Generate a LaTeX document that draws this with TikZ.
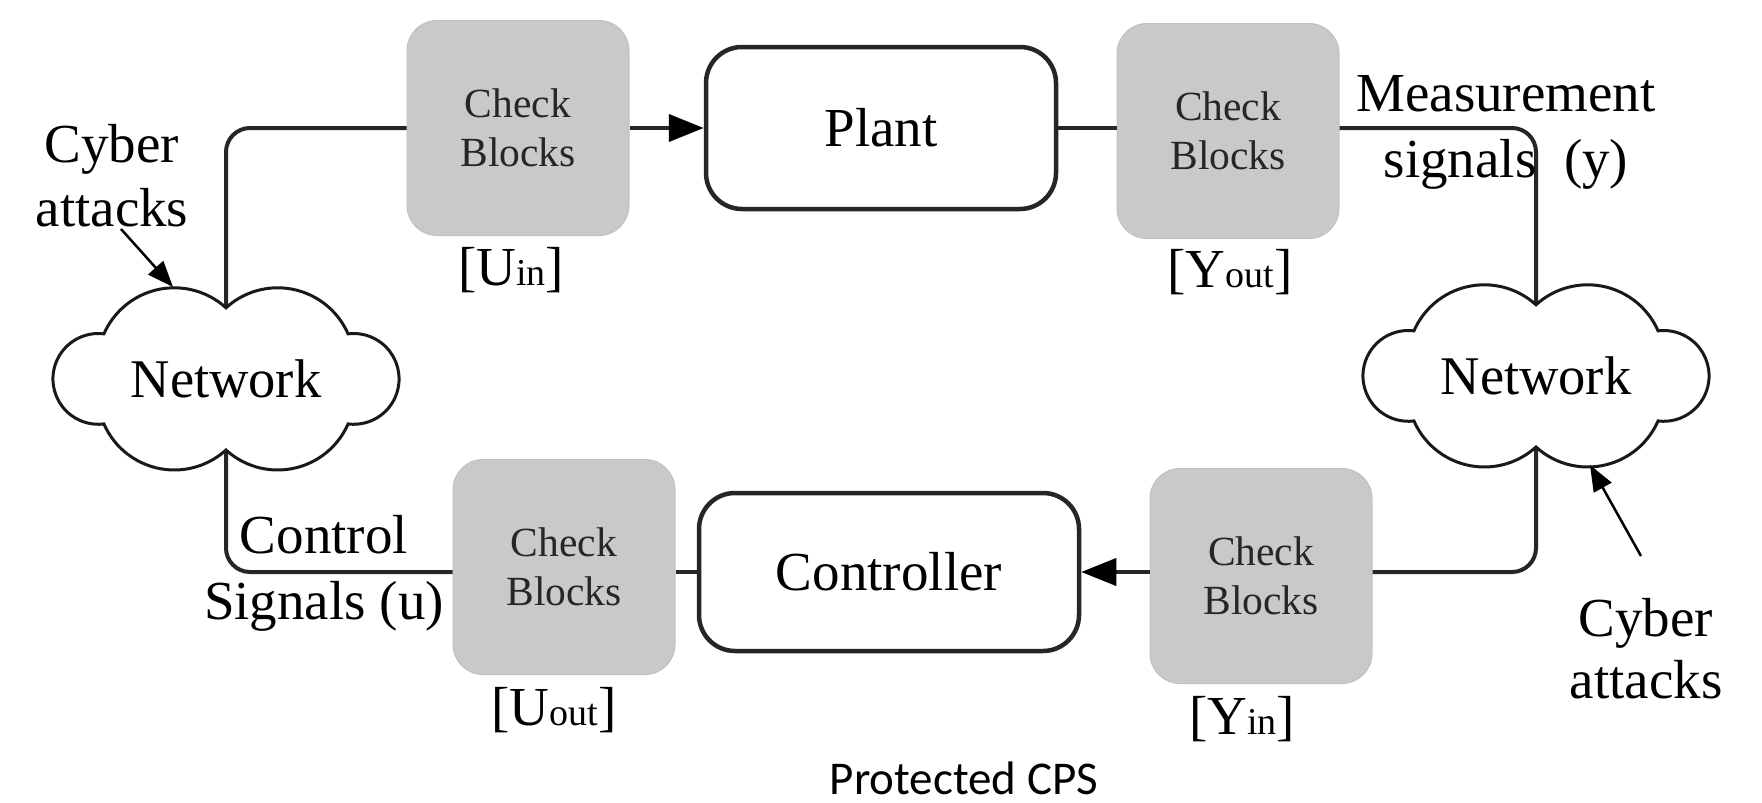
\documentclass[tikz,border=0pt]{standalone}
\usepackage{fontspec}
\setmainfont{Liberation Serif}
\newfontfamily\capfont{Carlito}
\usetikzlibrary{arrows.meta,calc}
\newcommand\mycloud[1]{%
  \draw[cloudline] ($(#1)+(0,71)$)
    arc[start angle=132.3, end angle=23.6, radius=76.8]
    arc[start angle=97.1, end angle=-97.1, radius=45.4]
    arc[start angle=-23.6, end angle=-132.3, radius=76.8]
    arc[start angle=-47.7, end angle=-156.4, radius=76.8]
    arc[start angle=-82.9, end angle=-277.1, radius=45.4]
    arc[start angle=156.4, end angle=47.7, radius=76.8] -- cycle;}
\begin{document}
\begin{tikzpicture}[x=1pt,y=-1pt,
  wire/.style={line width=4pt, draw=black!85},
  chk/.style={fill=black!21, draw=black!24, line width=1pt, rounded corners=30pt,
    minimum width=222pt, minimum height=215pt, align=center,
    font=\fontsize{41.5}{49}\selectfont, text=black!85},
  blk/.style={fill=white, draw=black!85, line width=4.5pt, rounded corners=36pt,
    font=\fontsize{55}{60}\selectfont},
  lbl/.style={font=\fontsize{55}{66}\selectfont, align=center, inner sep=0pt},
  net/.style={font=\fontsize{54.5}{60}\selectfont, inner sep=0pt},
  cloudline/.style={line width=3pt, draw=black!90, fill=white},
  atk/.style={line width=2.5pt, -{Triangle[length=26pt,width=20pt,fill=black]}},
  tip/.style={-{Triangle[length=35pt,width=27pt,fill=black,color=black]}}
]
\useasboundingbox (0,0) rectangle (1762,803);

% clouds (centres and attachment points)
\coordinate (lnc) at (226,379);
\coordinate (rnc) at (1536,376);
\coordinate (lnT) at ($(lnc)+(0,-71)$);
\coordinate (lnB) at ($(lnc)+(0,71)$);
\coordinate (rnT) at ($(rnc)+(0,-71)$);
\coordinate (rnB) at ($(rnc)+(0,71)$);

% blocks
\node[chk] (cb1) at (518,128) {Check\\Blocks};
\node[blk, minimum width=350pt, minimum height=162pt] (plant) at (881,128) {Plant};
\node[chk] (cb2) at (1228,131) {Check\\Blocks};
\node[chk] (cb3) at (564,567) {Check\\Blocks};
\node[blk, minimum width=380pt, minimum height=158pt] (ctrl) at (889,572) {Controller};
\node[chk] (cb4) at (1261,576) {Check\\Blocks};

% wires
\draw[wire,rounded corners=24pt] (lnT) |- (cb1.west);
\draw[wire,tip] (cb1.east) -- (plant.west);
\draw[wire] (plant.east) -- (plant.east -| cb2.west);
\draw[wire,rounded corners=24pt] (plant.east -| cb2.east) -| (rnT);
\draw[wire,rounded corners=24pt] (rnB) |- (ctrl.east -| cb4.east);
\draw[wire,tip] (ctrl.east -| cb4.west) -- (ctrl.east);
\draw[wire] (ctrl.west) -- (ctrl.west -| cb3.east);
\draw[wire,rounded corners=24pt] (ctrl.west -| cb3.west) -| (lnB);

% clouds
\mycloud{lnc}
\mycloud{rnc}
\node[net] (ln) at (lnc) {Network};
\node[net] (rn) at (rnc) {Network};

% labels
\node[lbl] (uin) at (511,270) {[U{\fontsize{38}{40}\selectfont in}]};
\node[lbl] (yout) at (1230,272) {[Y{\fontsize{38}{40}\selectfont out}]};
\node[lbl] (uout) at (554,710) {[U{\fontsize{38}{40}\selectfont out}]};
\node[lbl] (yin) at (1242,719) {[Y{\fontsize{38}{40}\selectfont in}]};
\node[lbl] (meas) at (1506,132) {Measurement\\signals\ \ (y)};
\node[lbl] (ctl) at (324,573) {Control\\Signals (u)};
\node[lbl, font=\fontsize{55}{64}\selectfont] (ca1) at (112,176) {Cyber\\attacks};
\node[lbl, font=\fontsize{55}{62}\selectfont] (ca2) at (1646,649) {Cyber\\attacks};
\node[font=\capfont\fontsize{47}{50}\selectfont, inner sep=0pt] (title) at (964,778) {Protected CPS};

% attack arrows
\coordinate (a1s) at (121,229);
\coordinate (a1e) at (173,287);
\coordinate (a2s) at (1641,556);
\coordinate (a2e) at (1590,465);
\draw[atk] (a1s) -- (a1e);
\draw[atk] (a2s) -- (a2e);
\end{tikzpicture}
\end{document}
